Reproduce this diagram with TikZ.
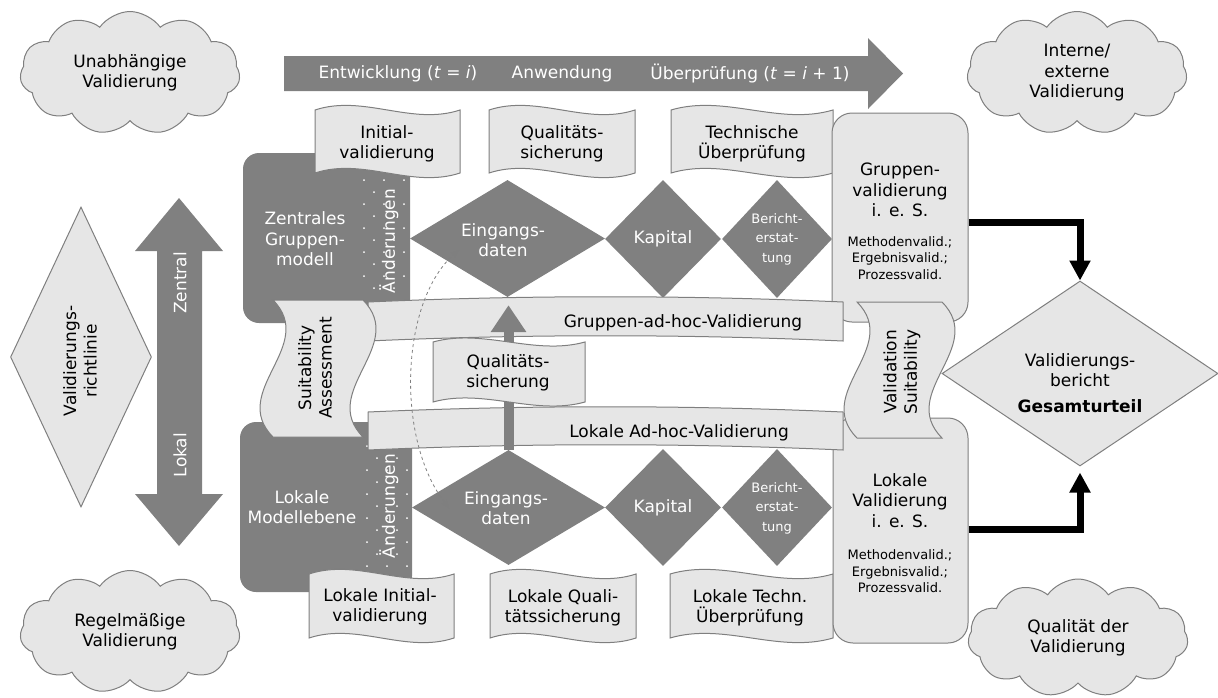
\documentclass[tikz,border=0pt]{standalone}
\usepackage{fontspec}
\setmainfont{DejaVu Sans}
\usetikzlibrary{shapes.geometric,shapes.symbols,arrows.meta}
\definecolor{dg}{HTML}{808080}
\definecolor{lg}{HTML}{E6E6E6}
\definecolor{ol}{HTML}{7F7F7F}
\newcommand{\bigf}{\fontsize{17}{20.5}\selectfont}
\newcommand{\smf}{\fontsize{13}{16.5}\selectfont}
\newcommand{\brf}{\fontsize{13}{19.5}\selectfont}
% horizontal tape, S-wave: x0 y0 w h c
\newcommand{\htape}[5]{%
  \draw[tape] (#1,#2) .. controls ({#1+#3/3},{#2-#5}) and ({#1+2*#3/3},{#2+#5}) .. ({#1+#3},#2)
    -- ({#1+#3},{#2+#4}) .. controls ({#1+2*#3/3},{#2+#4+#5}) and ({#1+#3/3},{#2+#4-#5}) .. (#1,{#2+#4}) -- cycle;}
% horizontal banner, arch
\newcommand{\hbanner}[5]{%
  \draw[tape] (#1,#2) .. controls ({#1+#3/3},{#2-#5}) and ({#1+2*#3/3},{#2-#5}) .. ({#1+#3},#2)
    -- ({#1+#3},{#2+#4}) .. controls ({#1+2*#3/3},{#2+#4-#5}) and ({#1+#3/3},{#2+#4-#5}) .. (#1,{#2+#4}) -- cycle;}
% vertical tape: x0 y0 w h c
\newcommand{\vtape}[5]{%
  \draw[tape] (#1,#2) -- ({#1+#3},#2) .. controls ({#1+#3+#5},{#2+#4/3}) and ({#1+#3-#5},{#2+2*#4/3}) .. ({#1+#3},{#2+#4})
    -- (#1,{#2+#4}) .. controls ({#1-#5},{#2+2*#4/3}) and ({#1+#5},{#2+#4/3}) .. (#1,#2) -- cycle;}
\begin{document}
\begin{tikzpicture}[x=1pt,y=-1pt,
  wt/.style={text=white,align=center,inner sep=0pt,font=\bigf},
  bt/.style={text=black,align=center,inner sep=0pt,font=\bigf},
  tape/.style={fill=lg,draw=ol,line width=1pt},
  dbox/.style={rectangle,fill=dg,rounded corners=16pt,inner sep=0pt,draw=none},
  lbox/.style={rectangle,fill=lg,draw=ol,line width=1pt,rounded corners=20pt,inner sep=0pt},
  ddia/.style={diamond,fill=dg,draw=none,inner sep=0pt},
  ldia/.style={diamond,fill=lg,draw=ol,line width=1pt,inner sep=0pt},
  cl/.style={cloud,cloud puffs=11,cloud puff arc=110,cloud ignores aspect,fill=lg,draw=ol,line width=1pt,inner sep=0pt,align=center,font=\bigf},
  barrow/.style={line width=7pt,-{Triangle[length=20pt,width=20pt]}},
  uparrow/.style={dg,line width=10pt,-{Triangle[length=27pt,width=34pt]}},
  arcst/.style={ol,line width=0.8pt,dashed,{Stealth[length=8pt,width=6pt]}-{Stealth[length=8pt,width=6pt]}}
]
\useasboundingbox (0,0) rectangle (1218,697);

% clouds
\node[cl,minimum width=220pt,minimum height=123pt] (c1) at (130,73) {Unabhängige\\Validierung};
\node[cl,minimum width=220pt,minimum height=123pt] (c2) at (1077,73) {Interne/\\externe\\Validierung};
\node[cl,minimum width=220pt,minimum height=123pt] (c3) at (130,632) {Regelmäßige\\Validierung};
\node[cl,minimum width=220pt,minimum height=118pt] (c4) at (1078,638) {Qualität der\\Validierung};

% left diamond
\node[ldia,minimum width=141pt,minimum height=300pt] (vr) at (81,357) {};
\node[bt,rotate=90] (vrt) at (80,361) {Validierungs-\\richtlinie};

% vertical double arrow
\fill[dg] (157,251) -- (135,251) -- (179,198) -- (223,251) -- (202,251) -- (202,494) -- (223,494) -- (179,546) -- (135,494) -- (157,494) -- cycle;
\node[wt,rotate=90] (zt) at (180,283) {Zentral};
\node[wt,rotate=90] (lt) at (180,455) {Lokal};

% top arrow
\fill[dg] (284,56) -- (868,56) -- (868,38) -- (903,73.5) -- (868,109) -- (868,91) -- (284,91) -- cycle;
\node[wt] (p1) at (398,74) {Entwicklung (\textit{t} = \textit{i})};
\node[wt] (p2) at (562,74) {Anwendung};
\node[wt] (p3) at (750,74) {Überprüfung (\textit{t} = \textit{i} + 1)};

% dark boxes
\node[dbox,minimum width=167pt,minimum height=170pt] (zg) at (326.5,238) {};
\node[dbox,minimum width=172pt,minimum height=170pt] (lm) at (326,507) {};
\begin{scope}
\clip (360,175) rectangle (410,298);
\foreach \r in {0,...,10}{\foreach \c in {0,1,2}{\fill[white] ({364+\c*20+mod(\r,2)*10},{180+\r*12}) circle (1pt);}}
\end{scope}
\begin{scope}
\clip (363,440) rectangle (412,585);
\foreach \r in {0,...,12}{\foreach \c in {0,1,2}{\fill[white] ({367+\c*20+mod(\r,2)*10},{446+\r*12}) circle (1pt);}}
\end{scope}
\node[wt] (zgt) at (305,239) {Zentrales\\Gruppen-\\modell};
\node[wt] (lmt) at (302,507) {Lokale\\Modellebene};
\node[wt,rotate=90] (ae1) at (389,241) {Änderungen};
\node[wt,rotate=90] (ae2) at (389,506) {Änderungen};

% dark diamonds
\node[ddia,minimum width=195pt,minimum height=117pt] (e1) at (507.5,238.5) {};
\node[ddia,minimum width=116pt,minimum height=118pt] (k1) at (663,239) {};
\node[ddia,minimum width=110pt,minimum height=118pt] (b1) at (777,239) {};
\node[ddia,minimum width=193pt,minimum height=115pt] (e2) at (508.5,507.5) {};
\node[ddia,minimum width=116pt,minimum height=117pt] (k2) at (663,507.5) {};
\node[ddia,minimum width=110pt,minimum height=117pt] (b2) at (777,507.5) {};
\node[wt] (e1t) at (503,240) {Eingangs-\\daten};
\node[wt] (k1t) at (663,239) {Kapital};
\node[wt,font=\brf] (b1t) at (777,239) {Bericht-\\erstat-\\tung};
\node[wt] (e2t) at (506,508) {Eingangs-\\daten};
\node[wt] (k2t) at (663,508) {Kapital};
\node[wt,font=\brf] (b2t) at (777,508) {Bericht-\\erstat-\\tung};

% top and bottom documents
\htape{315}{110}{145}{63}{16}
\htape{489}{110}{146}{63}{16}
\htape{671}{110}{162}{63}{16}
\node[bt] (d1) at (387,144) {Initial-\\validierung};
\node[bt] (d2) at (562,144) {Qualitäts-\\sicherung};
\node[bt] (d3) at (752,144) {Technische\\Überprüfung};
\htape{309}{574}{145}{64}{16}
\htape{490}{574}{146}{64}{16}
\htape{670}{574}{163}{64}{16}
\node[bt] (d4) at (380,607) {Lokale Initial-\\validierung};
\node[bt] (d5) at (563,608) {Lokale Quali-\\tätssicherung};
\node[bt] (d6) at (750,608) {Lokale Techn.\\Überprüfung};

% right boxes
\node[lbox,minimum width=136pt,minimum height=209pt] (gv) at (900,217.5) {};
\node[lbox,minimum width=135pt,minimum height=225pt] (lv) at (900.5,530.5) {};
\node[bt] (gvt) at (900,190) {Gruppen-\\validierung\\i. e. S.};
\node[bt,font=\smf] (gvs) at (900,258) {Methodenvalid.;\\Ergebnisvalid.;\\Prozessvalid.};
\node[bt] (lvt) at (900,500.5) {Lokale\\Validierung\\i. e. S.};
\node[bt,font=\smf] (lvs) at (900,571.5) {Methodenvalid.;\\Ergebnisvalid.;\\Prozessvalid.};

% banners
\hbanner{368}{302}{475}{39}{7}
\hbanner{368}{412}{475}{38}{7}
\node[bt] (gah) at (683,323) {Gruppen-ad-hoc-Validierung};
\node[bt] (lah) at (679,433) {Lokale Ad-hoc-Validierung};

% up arrow and middle document
\draw[uparrow,shorten >=8pt] (e2.north) -- (e2.north |- e1.south);
\htape{433}{342}{152}{60}{14}
\node[bt] (qm) at (508,373) {Qualitäts-\\sicherung};

% vertical tapes
\vtape{273}{300}{90}{137}{45}
\node[bt,rotate=90] (sa) at (315,368) {Suitability\\Assessment};
\vtape{857}{302}{85}{136}{45}
\node[bt,rotate=90] (vs) at (902,372) {Validation\\Suitability};

% final diamond and black arrows
\node[ldia,minimum width=276pt,minimum height=185pt] (vb) at (1080,373.5) {};
\node[bt] (vbt) at (1080,370) {Validierungs-\\bericht};
\node[bt,font=\bigf\bfseries] (vbg) at (1080,406) {Gesamturteil};
\draw[barrow] ([yshift=-4.5pt]gv.east) -| (vb.north);
\draw[barrow,shorten >=6pt] ([yshift=1pt]lv.east) -| (vb.south);

% dashed arc
\coordinate (a1) at (459,250);
\coordinate (a2) at (449,508);
\draw[arcst] (a1) .. controls (400,300) and (395,440) .. (a2);
\end{tikzpicture}
\end{document}
